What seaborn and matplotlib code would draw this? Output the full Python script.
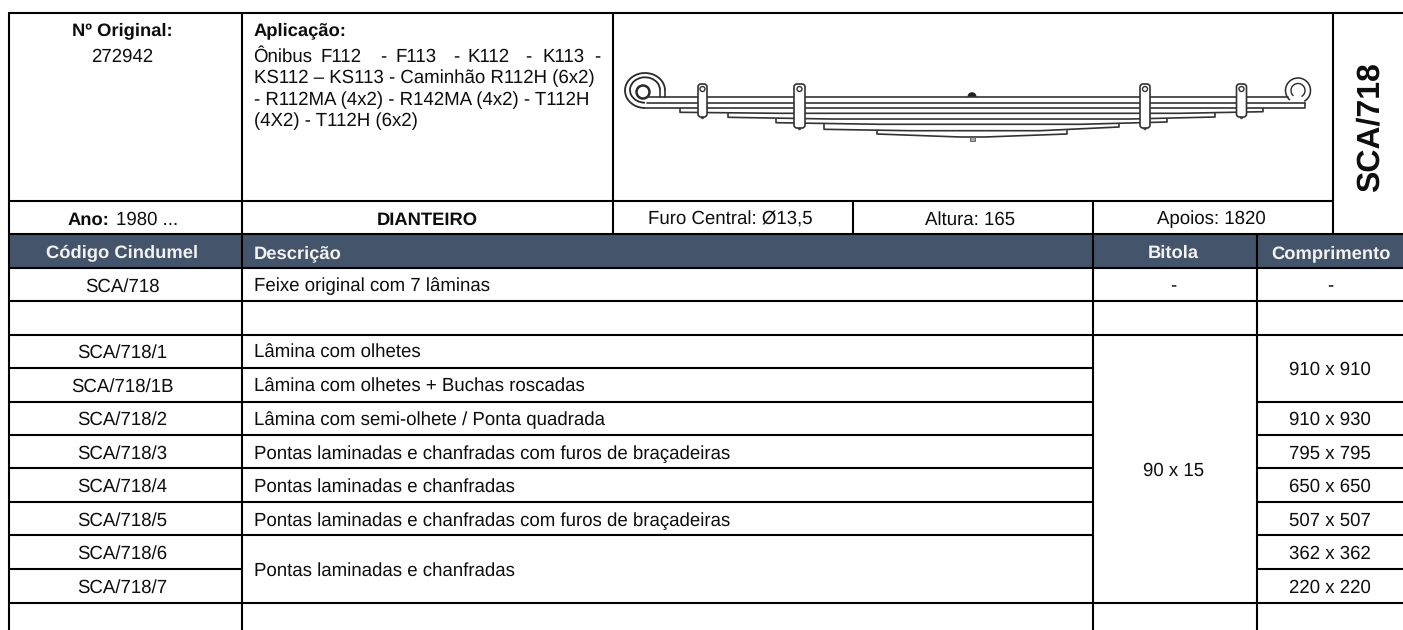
import pandas as pd
import matplotlib.pyplot as plt
from matplotlib.patches import Arc, Circle, FancyBboxPatch, Rectangle, Wedge
import seaborn as sns

# table content
codes = ['SCA/718', '', 'SCA/718/1', 'SCA/718/1B', 'SCA/718/2', 'SCA/718/3',
         'SCA/718/4', 'SCA/718/5', 'SCA/718/6', 'SCA/718/7']
descriptions = ['Feixe original com 7 lâminas', '', 'Lâmina com olhetes',
                'Lâmina com olhetes + Buchas roscadas',
                'Lâmina com semi-olhete / Ponta quadrada',
                'Pontas laminadas e chanfradas com furos de braçadeiras',
                'Pontas laminadas e chanfradas',
                'Pontas laminadas e chanfradas com furos de braçadeiras',
                'Pontas laminadas e chanfradas']
lengths = ['910 x 930', '795 x 795', '650 x 650', '507 x 507', '362 x 362', '220 x 220']
headers = ['Código Cindumel', 'Descrição', 'Bitola', 'Comprimento']
application_first = ['Ônibus', 'F112', '-', 'F113', '-', 'K112', '-', 'K113', '-']
application = ['KS112 – KS113 - Caminhão R112H (6x2)',
               '- R112MA (4x2) - R142MA (4x2) - T112H',
               '(4X2) - T112H (6x2)']

# leaf spring outline, one polyline per edge
edge_x = [[647, 1288], [647, 1305], [645, 1305, 1305],
          [680, 680, 780, 1180, 1263, 1263],
          [728, 728, 830, 1130, 1215, 1215],
          [776, 776, 880, 1080, 1167, 1167],
          [824, 824, 910, 1040, 1119, 1119],
          [877, 877, 960, 985, 1067, 1067],
          [664.5, 664.5], [659.5, 659.5]]
edge_y = [[96.7, 96.7], [102.7, 102.7], [108.3, 108.3, 102.7],
          [108.3, 112.3, 113.3, 113.3, 111.7, 108.3],
          [113.3, 117.3, 119, 119, 117, 113.3],
          [119, 122.7, 124.3, 124.3, 122, 119],
          [124.3, 129.3, 130.7, 130.7, 127, 124.3],
          [130.7, 134, 137, 137, 134, 130.7],
          [90, 97], [90, 97]]
clamp_x = [702.5, 799.5, 1145, 1241.5]
clamp_w = [9, 11, 10, 10]
clamp_bottom = [117, 128, 128, 117]

sns.set_theme(style='white')
plt.rcParams['font.family'] = ['Liberation Sans', 'DejaVu Sans']
plt.rcParams['text.color'] = '#0d0d0d'
plt.rcParams['text.hinting'] = 'none'

fig = plt.figure(figsize=(14.03, 6.3), dpi=100)
ax = fig.add_axes([0, 0, 1, 1])

edges = pd.DataFrame(
    [(i, x, y) for i, (xs, ys) in enumerate(zip(edge_x, edge_y)) for x, y in zip(xs, ys)],
    columns=['edge', 'x', 'y'])
sns.lineplot(data=edges, x='x', y='y', units='edge', estimator=None, sort=False,
             color='#333333', lw=1.2, legend=False, ax=ax)

# eyes of the main leaf
spring = dict(fill=False, ec='#2a2a2a')
ax.add_patch(Arc((645, 90.5), 40, 35, theta1=90, theta2=360, lw=1.3, **spring))
ax.add_patch(Arc((645, 90), 30, 25.4, theta1=90, theta2=360, lw=1.3, **spring))
ax.add_patch(Circle((643, 92), 6.5, lw=1.8, **spring))
ax.add_patch(Arc((1298, 90.5), 25, 25, theta1=130, theta2=60, lw=1.1, **spring))
ax.add_patch(Arc((1298, 90.5), 14, 14, theta1=130, theta2=60, lw=1.0, **spring))

# clamps over the leaves
for x, w, bottom in zip(clamp_x, clamp_w, clamp_bottom):
    ax.add_patch(FancyBboxPatch((x - w / 2, 84), w, bottom - 84, boxstyle='round,pad=0,rounding_size=3',
                                fc='white', ec='#333333', lw=1.2, zorder=3))
    ax.add_patch(Circle((x, 89), 2.5, fc='white', ec='#333333', lw=1.0, zorder=4))
    ax.add_patch(Circle((x, bottom + 0.5), 1.8, fc='#555555', ec='none', zorder=2))

# centre bolt
ax.add_patch(Wedge((972, 96.7), 4.5, 180, 360, fc='#222222', ec='none', zorder=2))
ax.add_patch(Rectangle((969.5, 137), 5, 4, fc='#aaaaaa', ec='#555555', lw=0.6, zorder=2))

# header band
ax.add_patch(Rectangle((8, 233.5), 1395, 34, fc='#44546A', ec='none', zorder=1))

# table rules
rule = dict(color='black', lw=1.5, zorder=5)
ax.hlines(12.5, 8, 1403, **rule)
ax.hlines(201, 8, 1333, **rule)
ax.hlines([233.5, 267.5, 301, 335, 603], 8, 1403, **rule)
ax.hlines(368, 8, 1093, **rule)
ax.hlines([402, 435, 468, 502, 535], 8, 1093, **rule)
ax.hlines([402, 435, 468, 502, 535, 569], 1257, 1403, **rule)
ax.hlines(569, 8, 241.5, **rule)
ax.vlines(8.5, 12.5, 630, **rule)
ax.vlines(241.5, 12.5, 630, **rule)
ax.vlines(613, 12.5, 234, **rule)
ax.vlines(852.5, 201, 234, **rule)
ax.vlines(1093, 201, 630, **rule)
ax.vlines(1333, 12.5, 234, **rule)
ax.vlines(1257, 234, 630, **rule)

size = 13.4
bold = 13.2


def put(x, y, label, ha='center', weight='normal', **kw):
    fs = bold if weight == 'bold' else size
    ax.text(x, y, label, ha=ha, va='baseline', fontsize=fs, fontweight=weight, zorder=6, **kw)


# top block text
put(122, 35, 'Nº Original:', weight='bold')
put(122, 62, '272942')
put(253.5, 35, 'Aplicação:', ha='left', weight='bold')
for x, word in zip([253.5, 320, 380, 395, 453, 467, 525, 542, 594], application_first):
    put(x, 62, word, ha='left')
for y, line in zip([83.5, 105, 126.5], application):
    put(253.5, y, line, ha='left')
ax.text(1370.5, 127, 'SCA/718', rotation=90, ha='center', va='center', fontsize=23, fontweight='bold')

# Ano row
put(109, 224.5, 'Ano:', ha='right', weight='bold')
put(116, 224.5, '1980 ...', ha='left')
put(427, 224.5, 'DIANTEIRO', weight='bold')
put(730.5, 224.5, 'Furo Central: Ø13,5')
put(970.5, 224.5, 'Altura: 165')
put(1211, 224.5, 'Apoios: 1820')

# header row
for x, label, ha in zip([122, 254, 1173, 1330.7], headers, ['center', 'left', 'center', 'center']):
    put(x, 258, label, ha=ha, weight='bold', color='#f2f2f2')

# body rows
row_y = [291.5, 325, 358, 391.5, 425, 459, 492, 525.5, 559, 593]
for y, code in zip(row_y, codes):
    put(122, y, code)
desc_y = row_y[:8] + [576]
for y, desc in zip(desc_y, descriptions):
    put(254, y, desc, ha='left')
put(1173, 291.5, '-')
put(1330.7, 291.5, '-')
put(1173.5, 476, '90 x 15')
put(1330, 375, '910 x 910')
for y, val in zip(row_y[4:], lengths):
    put(1330, y, val)

ax.set_xlim(0, 1403)
ax.set_ylim(630, 0)
ax.axis('off')
fig.savefig('out.png', dpi=100)
